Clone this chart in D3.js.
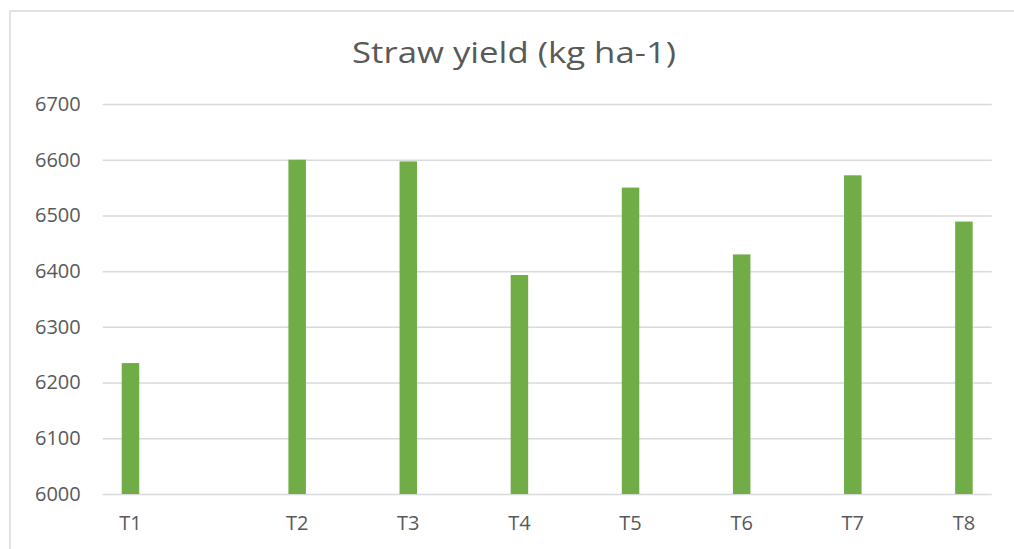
<html>
<head>
  <script src="https://cdn.jsdelivr.net/npm/d3@7"></script>
  <title>Straw yield</title>
  <style>
  body { margin: 0; background: #fff; }
  text { font-family: "Open Sans", sans-serif; fill: #595959; }
  </style>
</head>
<body>
  <div id="chart"></div>
  <script>

  // values
  var treatments = ["T1", "T2", "T3", "T4", "T5", "T6", "T7", "T8"];
  var slots = [0, 1.5, 2.5, 3.5, 4.5, 5.5, 6.5, 7.5]; // T1 sits apart from the rest
  var strawYield = [6235, 6600, 6597, 6393, 6550, 6430, 6572, 6489];
  var yTicks = [6000, 6100, 6200, 6300, 6400, 6500, 6600, 6700];

  var width = 1014,
    height = 549,
    plotLeft = 102.7, plotRight = 991.7,
    plotTop = 104, plotBottom = 494;

  var svg = d3.select("#chart").append("svg").attr("width", width).attr("height", height);

  // chart frame (right and bottom edges are cut off in the original)
  svg.append("rect")
    .attr("x", 10).attr("y", 11)
    .attr("width", 1010).attr("height", 550)
    .attr("fill", "none").attr("stroke", "#d9d9d9").attr("stroke-width", 1.5);

  var x = d3.scaleLinear().domain([-0.25, 7.75]).range([plotLeft, plotRight]);
  var y = d3.scaleLinear().domain([6000, 6700]).range([plotBottom, plotTop]);
  var barW = 17.5;

  svg.append("text")
    .attr("x", 514).attr("y", 63)
    .attr("text-anchor", "middle")
    .attr("font-size", 29)
    .attr("textLength", 324)
    .attr("lengthAdjust", "spacingAndGlyphs")
    .text("Straw yield (kg ha-1)");

  // gridlines + y labels via axis
  var yAxis = svg.append("g")
    .attr("transform", "translate(" + plotLeft + ",0)")
    .call(d3.axisLeft(y).tickValues(yTicks).tickSize(-(plotRight - plotLeft)).tickPadding(22).tickFormat(d3.format("d")));
  yAxis.select(".domain").remove();
  yAxis.selectAll("line").attr("stroke", "#d9d9d9").attr("stroke-width", 1.5);
  yAxis.selectAll("text")
    .attr("font-size", 20)
    .attr("font-family", "Open Sans, sans-serif")
    .attr("fill", "#595959");

  svg.selectAll(".bar").data(strawYield).enter()
    .append("rect")
    .attr("class", "bar")
    .attr("x", function(d, i) { return x(slots[i]) - barW / 2; })
    .attr("y", function(d) { return y(d); })
    .attr("width", barW)
    .attr("height", function(d) { return y(6000) - y(d); })
    .attr("fill", "#70ad47");

  svg.selectAll(".xlab").data(treatments).enter()
    .append("text")
    .attr("class", "xlab")
    .attr("x", function(d, i) { return x(slots[i]); })
    .attr("y", 530)
    .attr("text-anchor", "middle")
    .attr("font-size", 20)
    .text(function(d) { return d; });

  </script>
</body>
</html>
